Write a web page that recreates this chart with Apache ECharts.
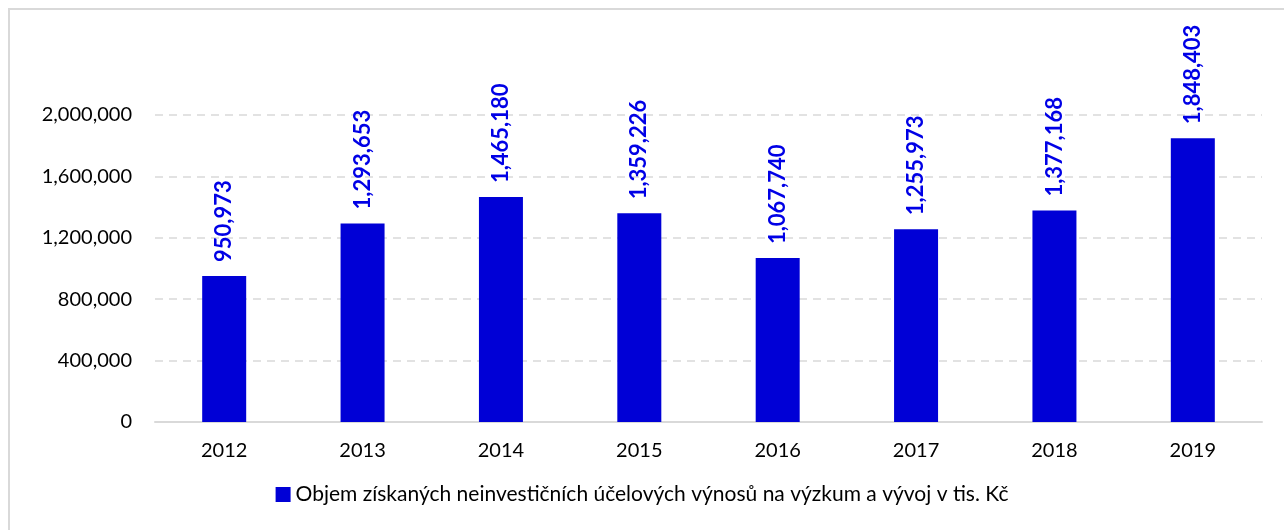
<!DOCTYPE html>
<html>
<head>
<meta charset="utf-8">
<script src="https://cdn.jsdelivr.net/npm/echarts@6/dist/echarts.min.js"></script>
<style>
html, body { margin: 0; padding: 0; background: #fff; }
#chart { width: 1284px; height: 530px; }
</style>
</head>
<body>
<div id="chart"></div>
<script>
// roky
var years = ['2012', '2013', '2014', '2015', '2016', '2017', '2018', '2019'];
// objem vynosu v tis. Kc
var vynosy = [950973, 1293653, 1465180, 1359226, 1067740, 1255973, 1377168, 1848403];
var seriesName = 'Objem získaných neinvestičních účelových výnosů na výzkum a vývoj v tis. Kč';

var fontName = 'Lato, "Open Sans", sans-serif';

var chart = echarts.init( document.getElementById('chart') );
chart.setOption({
	animation: false,
	textStyle: { fontFamily: fontName },
	graphic: [
		{
			type: 'rect',
			shape: { x: 9, y: 9, width: 1290, height: 540 },
			style: { fill: 'none', stroke: '#d9d9d9', lineWidth: 2 },
			silent: true
		}
	],
	grid: { left: 155, right: 22, top: 115, bottom: 108 },
	legend: {
		bottom: 20,
		left: 'center',
		itemWidth: 15,
		itemHeight: 15,
		itemGap: 6,
		icon: 'rect',
		textStyle: { fontSize: 21, color: '#000', fontFamily: fontName },
		data: [seriesName]
	},
	xAxis: {
		type: 'category',
		data: years,
		axisLine: { lineStyle: { color: '#d9d9d9', width: 2 } },
		axisTick: { show: false },
		axisLabel: { color: '#000', fontSize: 20, margin: 19 }
	},
	yAxis: {
		type: 'value',
		min: 0,
		max: 2000000,
		interval: 400000,
		axisLine: { show: false },
		axisTick: { show: false },
		splitLine: { lineStyle: { color: '#d9d9d9', type: [8, 6], width: 1.5 } },
		axisLabel: {
			color: '#000',
			fontSize: 20,
			margin: 23,
			formatter: function( v ){ return v.toLocaleString('en-US'); }
		}
	},
	series: [
		{
			name: seriesName,
			type: 'bar',
			data: vynosy,
			barWidth: 44,
			itemStyle: { color: '#0000d6' },
			label: {
				show: true,
				position: 'top',
				rotate: 90,
				align: 'left',
				verticalAlign: 'middle',
				distance: 14,
				color: '#0000e6',
				fontWeight: 'bold',
				fontSize: 22,
				formatter: function( p ){ return p.value.toLocaleString('en-US'); }
			}
		}
	]
});
</script>
</body>
</html>
